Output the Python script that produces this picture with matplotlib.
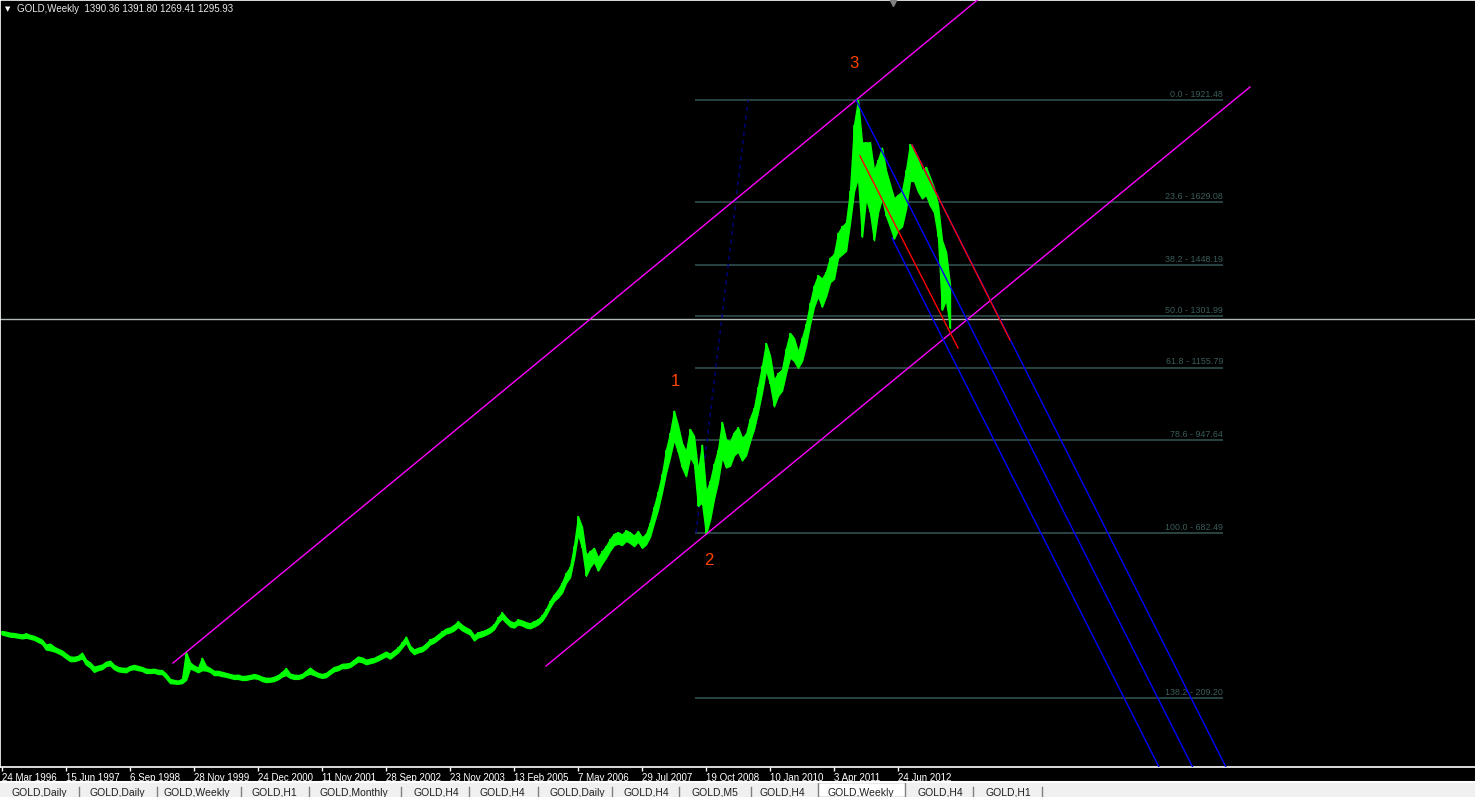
import matplotlib
matplotlib.use("Agg")
import matplotlib.pyplot as plt
from matplotlib.patches import Rectangle
from matplotlib.lines import Line2D

W, H, DPI = 1475, 797, 100
FONT = ["Liberation Sans", "DejaVu Sans"]

# weekly bars, sampled every 4 weeks; bar 0 = week of 24 Mar 1996
bar_index = list(range(0, 949, 4))
high = [
    402, 400, 397, 396, 394, 392, 395, 391, 388, 383, 377, 363, 366, 357, 351, 346,
    337, 329, 328, 331, 340, 320, 312, 300, 303, 306, 314, 317, 305, 299, 297, 296,
    302, 305, 302, 299, 294, 293, 294, 291, 290, 280, 265, 262, 260, 265, 342, 312,
    303, 297, 325, 302, 296, 288, 288, 285, 282, 279, 276, 277, 273, 274, 276, 279,
    276, 271, 268, 268, 271, 276, 285, 296, 280, 277, 276, 279, 288, 297, 288, 282,
    279, 282, 291, 299, 302, 308, 309, 311, 320, 329, 326, 320, 323, 325, 331, 337,
    343, 337, 346, 355, 370, 386, 360, 349, 354, 357, 366, 378, 383, 392, 401, 409,
    412, 419, 430, 419, 412, 406, 390, 398, 401, 406, 412, 421, 441, 455, 441, 430,
    426, 435, 432, 427, 424, 430, 435, 447, 464, 488, 506, 520, 540, 568, 585, 645,
    730, 700, 620, 630, 640, 612, 630, 645, 665, 680, 685, 678, 690, 684, 675, 688,
    670, 680, 712, 758, 800, 850, 920, 968, 1032, 990, 940, 915, 980, 960, 860, 935,
    800, 830, 880, 920, 1000, 950, 945, 970, 985, 955, 965, 1010, 1040, 1100, 1160, 1226,
    1190, 1120, 1140, 1150, 1210, 1255, 1240, 1200, 1240, 1280, 1340, 1390, 1420, 1410, 1430, 1470,
    1480, 1540, 1560, 1570, 1660, 1850, 1921, 1800, 1800, 1800, 1720, 1750, 1785, 1720, 1680, 1640,
    1650, 1660, 1720, 1795, 1780, 1750, 1720, 1730, 1700, 1670, 1620, 1520, 1487, 1392,
]
low = [
    392, 389, 386, 385, 383, 381, 383, 380, 377, 371, 365, 349, 347, 344, 339, 333,
    324, 316, 316, 319, 324, 306, 298, 285, 290, 293, 302, 304, 293, 287, 285, 284,
    291, 293, 290, 288, 282, 282, 283, 279, 279, 267, 253, 252, 251, 253, 262, 295,
    290, 284, 290, 289, 285, 276, 276, 273, 271, 268, 265, 265, 262, 262, 265, 267,
    265, 259, 256, 257, 259, 264, 272, 276, 268, 265, 265, 268, 276, 280, 276, 271,
    268, 270, 279, 287, 290, 296, 296, 299, 307, 315, 313, 307, 310, 313, 318, 324,
    330, 323, 332, 341, 355, 369, 347, 336, 341, 344, 352, 364, 369, 378, 387, 395,
    398, 404, 414, 404, 398, 392, 375, 384, 387, 392, 398, 407, 426, 438, 426, 415,
    412, 421, 418, 412, 410, 415, 421, 431, 448, 470, 488, 498, 512, 540, 556, 610,
    680, 640, 560, 585, 600, 575, 595, 612, 632, 648, 652, 648, 660, 654, 645, 658,
    640, 650, 672, 712, 750, 800, 855, 900, 950, 915, 870, 845, 900, 880, 760, 770,
    680, 720, 780, 830, 900, 870, 875, 905, 915, 890, 905, 945, 980, 1030, 1085, 1150,
    1110, 1045, 1075, 1090, 1140, 1185, 1175, 1155, 1175, 1220, 1280, 1330, 1360, 1330, 1360, 1400,
    1410, 1470, 1480, 1490, 1570, 1660, 1700, 1530, 1640, 1600, 1520, 1600, 1640, 1590, 1560, 1525,
    1550, 1560, 1610, 1690, 1690, 1660, 1640, 1650, 1620, 1600, 1530, 1321, 1350, 1269,
]

date_ticks = [0, 64, 128, 192, 256, 320, 384, 448, 512, 576, 640, 704, 768, 832, 896]
date_labels = ["24 Mar 1996", "15 Jun 1997", "6 Sep 1998", "28 Nov 1999", "24 Dec 2000",
               "11 Nov 2001", "28 Sep 2002", "23 Nov 2003", "13 Feb 2005", "7 May 2006",
               "29 Jul 2007", "19 Oct 2008", "10 Jan 2010", "3 Apr 2011", "24 Jun 2012"]

fib_levels = ["0.0", "23.6", "38.2", "50.0", "61.8", "78.6", "100.0", "138.2"]
fib_prices = [1921.48, 1629.08, 1448.19, 1301.99, 1155.79, 947.64, 682.49, 209.20]
fib_span = (693, 1221)
fib_base = ((694, 682.49), (746, 1921.48))

ohlc_last = [1390.36, 1391.80, 1269.41, 1295.93]

wave_labels = ["1", "2", "3"]
wave_bars = [673, 707, 852]
wave_prices = [1117, 605, 2025]

channel_lines = [((171, 310.5), (976, 2209.0)), ((544, 301.9), (1248, 1958.7))]
fork_starts = [(890, 1526.6), (854, 1921.5), (910, 1792.7)]
fork_slope = -5.67  # price per bar
red_lines = [((910, 1792.7), (1008, 1234.7)), ((858, 1761.2), (956, 1211.8))]

tab_names = ["GOLD,Daily", "GOLD,Daily", "GOLD,Weekly", "GOLD,H1", "GOLD,Monthly",
             "GOLD,H4", "GOLD,H4", "GOLD,Daily", "GOLD,H4", "GOLD,M5", "GOLD,H4",
             "GOLD,Weekly", "GOLD,H4", "GOLD,H1"]
tab_x = [12, 89, 164, 252, 320, 413, 480, 549, 624, 691, 760, 827, 917, 985]
tab_sep = [79, 157, 241, 309, 401, 469, 538, 612, 679, 751, 973, 1042]

YMIN, YMAX = 12.9, 2207.6

fig = plt.figure(figsize=(W / DPI, H / DPI), dpi=DPI, facecolor="black")
ax = fig.add_axes([0, 30 / H, 1, 767 / H])
ax.set_facecolor("black")
ax.set_xlim(-2, 1473)
ax.set_ylim(YMIN, YMAX)

# fibonacci retracement
for lvl, p in zip(fib_levels, fib_prices):
    ax.hlines(p, fib_span[0], fib_span[1], color="#2f4f4f", lw=1.2, zorder=1)
    ax.annotate(f"{lvl} - {p:.2f}", (fib_span[1], p), xytext=(0, 1),
                textcoords="offset points", ha="right", va="bottom",
                color="#3b5c5c", fontsize=6.4, family=FONT)
ax.plot([fib_base[0][0], fib_base[1][0]], [fib_base[0][1], fib_base[1][1]],
        color="#000080", lw=1, ls=(0, (3, 3)), zorder=1)

# bid line
ax.axhline(ohlc_last[3], color="#b0b8b8", lw=1, zorder=1)

# price bars
ax.fill_between(bar_index, low, high, color="#00ff00", lw=1.0,
                edgecolor="#00ff00", zorder=2)
ax.vlines(bar_index, low, high, color="#00ff00", lw=1.2, zorder=2)

# channel
for (x0, y0), (x1, y1) in channel_lines:
    ax.plot([x0, x1], [y0, y1], color="#ff00ff", lw=1, zorder=3)

# parallel rays down from the top
for x0, y0 in fork_starts:
    x1 = x0 + (YMIN - 80 - y0) / fork_slope
    ax.plot([x0, x1], [y0, YMIN - 80], color="#0000ff", lw=1, zorder=3)
for (x0, y0), (x1, y1) in red_lines:
    ax.plot([x0, x1], [y0, y1], color="#ff0000", lw=1, zorder=4)

for t, b, p in zip(wave_labels, wave_bars, wave_prices):
    ax.text(b, p, t, color="#ff4500", fontsize=12, ha="center", va="center",
            family=FONT, zorder=5)

# axes frame
ax.spines["right"].set_visible(False)
for side in ["top", "left", "bottom"]:
    ax.spines[side].set_color("white")
    ax.spines[side].set_linewidth(1.2)
ax.set_yticks([])
ax.set_xticks(date_ticks)
ax.set_xticklabels(date_labels, ha="left", color="white", fontsize=7, family=FONT)
ax.tick_params(axis="x", direction="out", length=3, width=1, color="white", pad=1.5)

# header
fig.text(5 / W, 1 - 9 / H, "\u25bc", color="white", fontsize=5, va="center",
         family="DejaVu Sans")
fig.text(17 / W, 1 - 9 / H, "GOLD,Weekly  " + " ".join(f"{v:.2f}" for v in ohlc_last),
         color="#e8e8e8", fontsize=7, va="center", family=FONT)
fig.add_artist(Line2D([893 / W], [1 - 3 / H], marker="v", ms=5, color="#808080",
                      transform=fig.transFigure))

# tab strip
fig.add_artist(Rectangle((0, 0), 1, 14 / H, transform=fig.transFigure,
                         facecolor="#f0f0f0", edgecolor="none"))
fig.add_artist(Line2D([0, 1], [1 - 782 / H] * 2, color="white", lw=1.5,
                      transform=fig.transFigure))
fig.add_artist(Rectangle((818 / W, 0), 87 / W, 15 / H, transform=fig.transFigure,
                         facecolor="white", edgecolor="#808080", lw=1))
for sx in tab_sep:
    fig.add_artist(Line2D([sx / W] * 2, [0, 10 / H], color="#808080", lw=1,
                          transform=fig.transFigure))
for name, tx in zip(tab_names, tab_x):
    fig.text(tx / W, 1 - 787.5 / H, name, color="#202020", fontsize=7.5, va="top",
             family=FONT)

fig.savefig("out.png", dpi=DPI, facecolor="black")
